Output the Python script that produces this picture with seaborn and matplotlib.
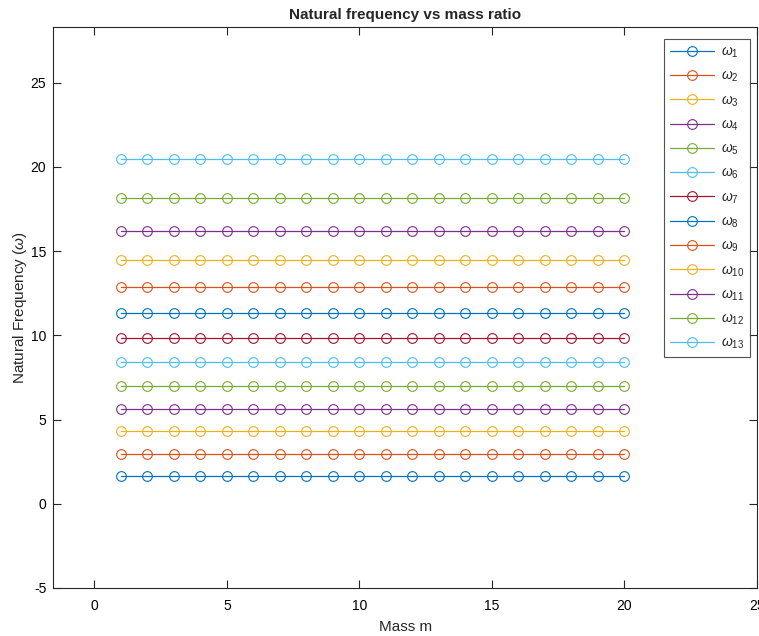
import numpy as np
import pandas as pd
import matplotlib
matplotlib.use("Agg")
import matplotlib.pyplot as plt
import seaborn as sns

# Mass values and the natural frequency of each mode (constant over mass)
mass = list(range(1, 21))
mode_labels = [r"$\omega_{%d}$" % i for i in range(1, 14)]
mode_freqs = [1.63, 2.95, 4.30, 5.64, 6.99, 8.41, 9.84, 11.31,
              12.87, 14.49, 16.21, 18.13, 20.45]

line_colors = ["#0072BD", "#D95319", "#EDB120", "#7E2F8E",
               "#77AC30", "#4DBEEE", "#A2142F"]

sns.set_theme(style="white")
plt.rcParams["font.family"] = ["Liberation Sans", "DejaVu Sans"]
plt.rcParams["mathtext.fontset"] = "custom"
plt.rcParams["mathtext.it"] = "Liberation Sans:italic"
plt.rcParams["mathtext.rm"] = "Liberation Sans"
plt.rcParams["axes.unicode_minus"] = False

fig = plt.figure(figsize=(7.59, 6.36), dpi=100)
ax = fig.add_axes([0.0702, 0.0755, 0.9272, 0.882])

rows = []
for label, f in zip(mode_labels, mode_freqs):
    for m in mass:
        rows.append({"mass": m, "freq": f, "mode": label})
df = pd.DataFrame(rows)

for i, label in enumerate(mode_labels):
    sub = df[df["mode"] == label]
    c = line_colors[i % len(line_colors)]
    sns.lineplot(data=sub, x="mass", y="freq", ax=ax, color=c,
                 marker="o", markersize=7, markerfacecolor="none",
                 markeredgewidth=0.8, markeredgecolor=c,
                 linewidth=0.9, legend=False)

ax.set_xlim(-1.55, 25)
ax.set_ylim(-5, 28.3)
ax.set_xticks([0, 5, 10, 15, 20, 25])
ax.set_yticks([-5, 0, 5, 10, 15, 20, 25])

axis_color = "#262626"
for s in ax.spines.values():
    s.set_visible(True)
    s.set_color(axis_color)
    s.set_linewidth(0.8)
ax.tick_params(direction="in", length=6, width=0.8, colors=axis_color,
               labelcolor="#000000", labelsize=10, top=True, right=True,
               bottom=True, left=True)
ax.tick_params(axis="x", pad=8)
ax.tick_params(axis="y", pad=5)

ax.set_title("Natural frequency vs mass ratio", fontsize=11, fontweight="bold", pad=6)
ax.set_xlabel("Mass m", fontsize=11, labelpad=5)
ax.set_ylabel(r"Natural Frequency ($\omega$)", fontsize=11, labelpad=1)

leg = ax.legend(handles=ax.lines, labels=mode_labels, loc="upper right",
                bbox_to_anchor=(0.990, 0.9786), borderaxespad=0,
                fontsize=10, handlelength=3.2, handletextpad=0.5,
                labelspacing=0.64, borderpad=0.4, frameon=True,
                fancybox=False, edgecolor=axis_color)
leg.get_frame().set_linewidth(0.8)

fig.savefig("out.png", dpi=100)
